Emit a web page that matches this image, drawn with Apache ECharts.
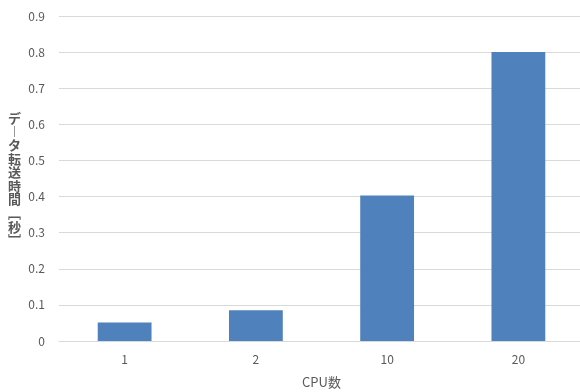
<!DOCTYPE html>
<html>
<head>
<meta charset="utf-8">
<script src="https://cdn.jsdelivr.net/npm/echarts@6/dist/echarts.min.js"></script>
<style>
  html, body { margin: 0; padding: 0; background: #fff; }
  #chart { width: 580px; height: 392px; }
</style>
</head>
<body>
<div id="chart"></div>
<script>
// CPU count vs. data transfer time
const categories = ['1', '2', '10', '20'];
const transferTimes = [0.051, 0.085, 0.403, 0.8];
const yTicks = { min: 0, max: 0.9, interval: 0.1 };

const yTitleChars = ['デ', '︱', 'タ', '転', '送', '時', '間', '﹇', '秒', '﹈'];

const font = '"Noto Sans CJK JP", "Noto Sans", sans-serif';
const textColor = '#595959';

const chart = echarts.init(document.getElementById('chart'));
chart.setOption({
  animation: false,
  grid: { left: 59, right: -4, top: 16, bottom: 51, containLabel: false, outerBoundsMode: 'none' },
  xAxis: {
    type: 'category',
    data: categories,
    name: 'CPU数',
    nameLocation: 'middle',
    nameGap: 35,
    nameTextStyle: { color: textColor, fontSize: 13, fontFamily: font },
    axisLine: { lineStyle: { color: '#d9d9d9', width: 1 } },
    axisTick: { show: false },
    axisLabel: { color: textColor, fontSize: 12, fontFamily: font, margin: 12 }
  },
  yAxis: {
    type: 'value',
    min: yTicks.min,
    max: yTicks.max,
    interval: yTicks.interval,
    axisLine: { show: false },
    axisTick: { show: false },
    splitLine: { lineStyle: { color: '#d9d9d9', width: 1 } },
    axisLabel: {
      color: textColor, fontSize: 12, fontFamily: font, margin: 14,
      formatter: v => (v === 0 ? '0' : v.toFixed(1))
    }
  },
  graphic: [{
    type: 'text',
    left: 8,
    top: 111,
    style: {
      text: yTitleChars.join('\n'),
      fill: textColor,
      font: 'bold 13px ' + font,
      lineHeight: 13.6,
      align: 'center'
    }
  }],
  series: [{
    type: 'bar',
    data: transferTimes,
    barWidth: '41%',
    itemStyle: { color: '#4f81bd' }
  }]
});
</script>
</body>
</html>
